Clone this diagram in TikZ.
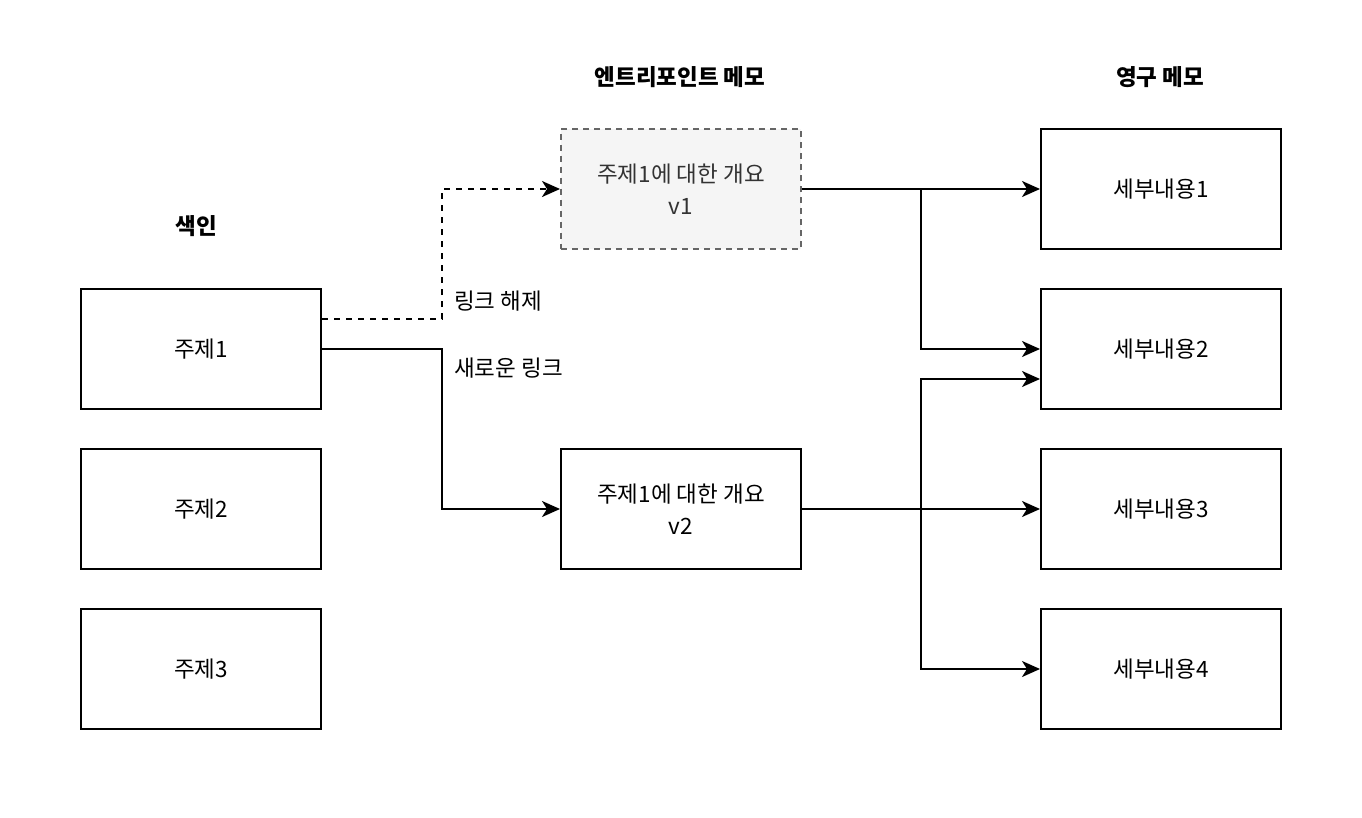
\documentclass[tikz,border=0pt]{standalone}
\usepackage{fontspec}
\setmainfont{Noto Sans CJK KR}
\usetikzlibrary{arrows.meta,calc}
\definecolor{boxgray}{HTML}{666666}
\definecolor{fillgray}{HTML}{F5F5F5}
\definecolor{txtgray}{HTML}{333333}
\tikzset{
  card/.style={draw=black, line width=2pt, fill=white, minimum width=240pt, minimum height=120pt, align=center, font=\fontsize{22.5}{32}\selectfont, inner sep=0pt},
  oldcard/.style={card, draw=boxgray, fill=fillgray, text=txtgray, dash pattern=on 6pt off 5pt},
  heading/.style={font=\fontsize{22.5}{28}\selectfont\bfseries},
  lbl/.style={font=\fontsize{22.5}{28}\selectfont, anchor=west, inner sep=0pt},
  link/.style={line width=2pt, -{Stealth[length=18pt,width=16pt,inset=5pt]}},
  dlink/.style={link, dash pattern=on 6pt off 6pt}
}
\begin{document}
\begin{tikzpicture}[x=1pt,y=-1pt]
\useasboundingbox (0,0) rectangle (1362,818);
% headings
\node[heading] (hidx) at (196,226) {색인};
\node[heading] (hent) at (680,77) {엔트리포인트 메모};
\node[heading] (hper) at (1160,77) {영구 메모};
% index
\node[card] (t1) at (201,349) {주제1};
\node[card] (t2) at (201,509) {주제2};
\node[card] (t3) at (201,669) {주제3};
% entry notes
\node[oldcard] (v1) at (681,189) {주제1에 대한 개요\\v1};
\node[card] (v2) at (681,509) {주제1에 대한 개요\\v2};
% permanent notes
\node[card] (d1) at (1161,189) {세부내용1};
\node[card] (d2) at (1161,349) {세부내용2};
\node[card] (d3) at (1161,509) {세부내용3};
\node[card] (d4) at (1161,669) {세부내용4};
% junctions
\coordinate (j1) at (921,189);
\coordinate (j2) at (921,509);
% links from index
\draw[dlink] ([yshift=30pt]t1.east) -- ++(120,0) |- (v1.west);
\draw[link] (t1.east) -- ++(120,0) |- (v2.west);
\node[lbl] (l1) at (454,301) {링크 해제};
\node[lbl] (l2) at (454,368) {새로운 링크};
% links to permanent notes
\draw[link] (v1.east) -- (d1.west);
\draw[link] (j1) |- (d2.west);
\draw[link] (v2.east) -- (d3.west);
\draw[link] (j2) |- ([yshift=-30pt]d2.west);
\draw[link] (j2) |- (d4.west);
\end{tikzpicture}
\end{document}
